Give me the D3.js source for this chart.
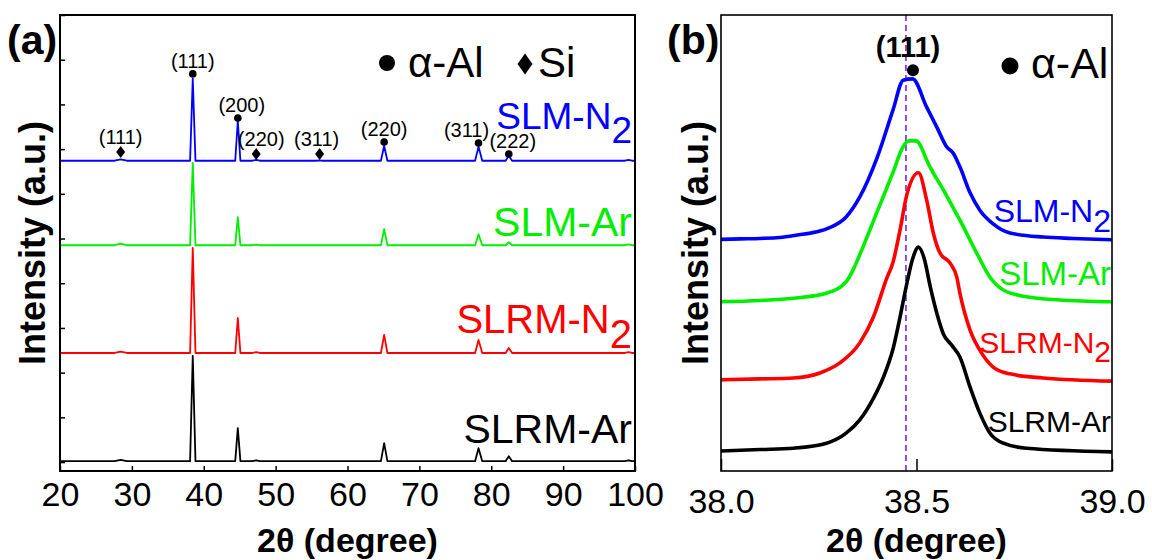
<!DOCTYPE html>
<html>
<head>
<meta charset="utf-8">
<script src="https://cdn.jsdelivr.net/npm/d3@7"></script>
<style>
  body { margin: 0; background: #fff; }
  svg { display: block; }
</style>
</head>
<body>
<svg id="xrd_svg" width="1152" height="560"></svg>
<script>
// ---- panel (a): full patterns, intensity above each pattern's own baseline
const sampleNames = ['SLM-N2', 'SLM-Ar', 'SLRM-N2', 'SLRM-Ar'];
const stackOffsets = [6740, 4850, 2440, 20];

const slmN2 = [
  [20, 0], [27.6, 0], [28.44, 30], [29.3, 0],
  [38.1, 0], [38.47, 1834], [38.85, 0],
  [44.38, 0], [44.74, 895], [45.1, 0],
  [46.8, 0], [47.3, 20], [47.8, 0],
  [55.6, 0], [56.12, 10], [56.6, 0],
  [64.65, 0], [65.1, 335], [65.55, 0],
  [77.75, 0], [78.23, 313], [78.75, 0],
  [82.0, 0], [82.44, 112], [82.9, 0],
  [98.6, 0], [99.1, 20], [99.6, 0], [100, 0]
];
const slmAr = [
  [20, 0], [27.6, 0], [28.44, 35], [29.3, 0],
  [38.1, 0], [38.47, 1840], [38.85, 0],
  [44.38, 0], [44.74, 626], [45.1, 0],
  [46.8, 0], [47.3, 15], [47.8, 0],
  [64.65, 0], [65.1, 358], [65.55, 0],
  [77.75, 0], [78.23, 246], [78.75, 0],
  [82.0, 0], [82.44, 67], [82.9, 0],
  [98.6, 0], [99.1, 20], [99.6, 0], [100, 0]
];
const slrmN2 = [
  [20, 0], [27.6, 0], [28.44, 30], [29.3, 0],
  [38.1, 0], [38.47, 2350], [38.85, 0],
  [44.38, 0], [44.74, 783], [45.1, 0],
  [46.8, 0], [47.3, 20], [47.8, 0],
  [64.65, 0], [65.1, 403], [65.55, 0],
  [77.75, 0], [78.23, 291], [78.75, 0],
  [82.0, 0], [82.44, 112], [82.9, 0],
  [98.6, 0], [99.1, 20], [99.6, 0], [100, 0]
];
const slrmAr = [
  [20, 0], [27.6, 0], [28.44, 30], [29.3, 0],
  [38.1, 0], [38.47, 2355], [38.85, 0],
  [44.38, 0], [44.74, 738], [45.1, 0],
  [46.8, 0], [47.3, 20], [47.8, 0],
  [64.65, 0], [65.1, 403], [65.55, 0],
  [77.75, 0], [78.23, 291], [78.75, 0],
  [82.0, 0], [82.44, 112], [82.9, 0],
  [98.6, 0], [99.1, 20], [99.6, 0], [100, 0]
];

const peaksAl = [38.47, 44.74, 65.1, 78.23, 82.44];
const hklAl = ['(111)', '(200)', '(220)', '(311)', '(222)'];
const markAl = [8682, 7697, 7160, 7137, 6891];
const peaksSi = [28.44, 47.3, 56.12];
const hklSi = ['(111)', '(220)', '(311)'];
const markSi = [6937, 6891, 6891];

const ticksA = [20, 30, 40, 50, 60, 70, 80, 90, 100];

// ---- panel (b): (111) peak zoom, already stacked
const zoomN2 = [
  [38.00, 50.8], [38.05, 50.9], [38.10, 51.0], [38.15, 51.2], [38.20, 51.8], [38.23, 52.2],
  [38.27, 53.1], [38.32, 55.7], [38.355, 60.1], [38.40, 68.9], [38.44, 79.2], [38.466, 85.7],
  [38.49, 86.0], [38.526, 79.8], [38.552, 75.4], [38.577, 71.1], [38.594, 69.7], [38.611, 66.7],
  [38.637, 61.0], [38.662, 57.2], [38.696, 54.2], [38.739, 52.2], [38.824, 51.3], [38.90, 51.0],
  [39.00, 50.7]
];
const zoomAr = [
  [38.00, 37.1], [38.10, 37.4], [38.185, 37.9], [38.27, 39.0], [38.32, 41.5], [38.34, 44.5],
  [38.36, 48.5], [38.40, 57.0], [38.44, 65.5], [38.465, 71.0], [38.48, 72.4], [38.50, 72.4],
  [38.515, 70.5], [38.526, 68.2], [38.569, 61.6], [38.594, 57.7], [38.611, 55.0], [38.654, 47.8],
  [38.688, 42.5], [38.722, 39.7], [38.781, 38.2], [38.866, 37.5], [39.00, 37.1]
];
const zoomSN2 = [
  [38.00, 20.0], [38.10, 20.2], [38.185, 20.4], [38.253, 21.5], [38.304, 23.7], [38.355, 28.1],
  [38.389, 33.6], [38.424, 42.3], [38.44, 45.8], [38.458, 52.9], [38.475, 60.5], [38.505, 65.4],
  [38.526, 59.4], [38.543, 52.2], [38.56, 47.8], [38.586, 45.6], [38.603, 42.5], [38.611, 39.0],
  [38.637, 30.9], [38.662, 26.5], [38.696, 22.8], [38.739, 21.3], [38.824, 20.4], [39.00, 19.7]
];
const zoomSAr = [
  [38.00, 4.4], [38.10, 4.7], [38.185, 5.0], [38.27, 6.1], [38.32, 8.3], [38.355, 11.2],
  [38.389, 15.8], [38.415, 20.5], [38.44, 26.8], [38.458, 33.8], [38.475, 41.0], [38.49, 46.5],
  [38.505, 49.1], [38.52, 46.5], [38.535, 40.5], [38.552, 34.6], [38.569, 30.0], [38.59, 27.6],
  [38.611, 25.0], [38.637, 18.4], [38.662, 12.7], [38.688, 8.3], [38.722, 6.1], [38.781, 5.0],
  [39.00, 4.2]
];
const refAngle = 38.473;
const ticksB = [38.0, 38.5, 39.0];

const colors = ['#0000ff', '#00ee00', '#ff0000', '#000000'];
const FONT = '"Liberation Sans", Arial, sans-serif';

function diamond(cx, cy, w, h) {
  return `M${cx},${cy - h}L${cx + w},${cy}L${cx},${cy + h}L${cx - w},${cy}Z`;
}

function sampleLabel(g, name, xEnd, yBase, size, color, subDy) {
  let t = g.append('text')
    .attr('x', xEnd).attr('y', yBase)
    .attr('text-anchor', 'end')
    .attr('font-size', size)
    .attr('fill', color);
  if (name.endsWith('2')) {
    t.append('tspan').text(name.slice(0, -1));
    t.append('tspan').attr('dy', subDy).text('2');
  } else {
    t.text(name);
  }
}

class XrdFigure {
  constructor() {
    this.svg = d3.select('#xrd_svg').attr('font-family', FONT);
    this.defs = this.svg.append('defs');
  }

  clip(id, x0, y0, w, h) {
    this.defs.append('clipPath').attr('id', id)
      .append('rect').attr('x', x0).attr('y', y0).attr('width', w).attr('height', h);
    return `url(#${id})`;
  }

  drawPanelA() {
    let svg = this.svg;
    let left = 60, right = 635, top = 15, bottom = 471;
    let x = d3.scaleLinear().domain([20, 100]).range([left, right]);
    let y = d3.scaleLinear().domain([-200, 10000]).range([bottom, top]);
    let series = [slmN2, slmAr, slrmN2, slrmAr];

    let g = svg.append('g').attr('clip-path', this.clip('clipA', left, top, right - left, bottom - top));
    for (let i = series.length - 1; i >= 0; i--) {
      let line = d3.line()
        .x(d => x(d[0]))
        .y(d => y(d[1] + stackOffsets[i]));
      g.append('path')
        .datum(series[i])
        .attr('d', line)
        .attr('fill', 'none')
        .attr('stroke', colors[i])
        .attr('stroke-width', 1.8)
        .attr('stroke-linejoin', 'round');
    }

    let xAxis = svg.append('g')
      .attr('transform', `translate(0,${bottom})`)
      .call(d3.axisBottom(x).tickValues(ticksA).tickSize(-5).tickSizeOuter(0).tickPadding(11).tickFormat(d3.format('d')));
    xAxis.select('.domain').remove();
    xAxis.attr('font-size', 34).attr('font-family', FONT);
    xAxis.selectAll('line').attr('stroke-width', 1.5);

    let yAxis = svg.append('g')
      .attr('transform', `translate(${left},0)`)
      .call(d3.axisLeft(y).tickValues(d3.range(0, 10001, 1000)).tickSize(-5).tickSizeOuter(0).tickFormat(''));
    yAxis.select('.domain').remove();
    yAxis.selectAll('line').attr('stroke-width', 1.5);

    svg.append('rect')
      .attr('x', left).attr('y', top)
      .attr('width', right - left).attr('height', bottom - top)
      .attr('fill', 'none').attr('stroke', '#000').attr('stroke-width', 2);

    // peak markers and indices
    let nudgeAl = [0, 4, 0, -12, 4];
    let nudgeSi = [0, 5, -3];
    let marks = svg.append('g');
    peaksAl.forEach((p, i) => {
      marks.append('circle').attr('cx', x(p)).attr('cy', y(markAl[i])).attr('r', 3.8);
      marks.append('text')
        .attr('x', x(p) + nudgeAl[i]).attr('y', y(markAl[i]) - 6)
        .attr('text-anchor', 'middle').attr('font-size', 20)
        .text(hklAl[i]);
    });
    peaksSi.forEach((p, i) => {
      marks.append('path').attr('d', diamond(x(p), y(markSi[i]), 4.5, 6));
      marks.append('text')
        .attr('x', x(p) + nudgeSi[i]).attr('y', y(markSi[i]) - 8)
        .attr('text-anchor', 'middle').attr('font-size', 20)
        .text(hklSi[i]);
    });

    let labelY = [129, 236, 333, 443];
    let labelSize = [37, 41, 40, 41];
    sampleNames.forEach((n, i) => sampleLabel(svg, n, 632, labelY[i], labelSize[i], colors[i], '0.38em'));

    // legend
    svg.append('circle').attr('cx', 387).attr('cy', 63).attr('r', 8);
    svg.append('text').attr('x', 408).attr('y', 77).attr('font-size', 42).text('α-Al');
    svg.append('path').attr('d', diamond(525, 64, 7.5, 10.5));
    svg.append('text').attr('x', 538).attr('y', 77).attr('font-size', 42).text('Si');

    svg.append('text').attr('x', 7).attr('y', 54)
      .attr('font-size', 41).attr('font-weight', 'bold').text('(a)');
    svg.append('text').attr('x', (left + right) / 2).attr('y', 552)
      .attr('text-anchor', 'middle').attr('font-size', 34).attr('font-weight', 'bold')
      .text('2θ (degree)');
    svg.append('text')
      .attr('transform', `translate(45,${(top + bottom) / 2}) rotate(-90)`)
      .attr('text-anchor', 'middle').attr('font-size', 36).attr('font-weight', 'bold')
      .text('Intensity (a.u.)');
  }

  drawPanelB() {
    let svg = this.svg;
    let left = 721, right = 1112, top = 15, bottom = 471;
    let x = d3.scaleLinear().domain([38, 39]).range([left, right]);
    let y = d3.scaleLinear().domain([0, 100]).range([bottom, top]);
    let series = [zoomN2, zoomAr, zoomSN2, zoomSAr];

    let g = svg.append('g').attr('clip-path', this.clip('clipB', left, top, right - left, bottom - top));
    g.append('line')
      .attr('x1', x(refAngle)).attr('x2', x(refAngle))
      .attr('y1', top).attr('y2', bottom)
      .attr('stroke', '#7a1fff').attr('stroke-width', 1.6)
      .attr('stroke-dasharray', '6,4');

    let line = d3.line()
      .x(d => x(d[0]))
      .y(d => y(d[1]))
      .curve(d3.curveMonotoneX);
    for (let i = series.length - 1; i >= 0; i--) {
      g.append('path')
        .datum(series[i])
        .attr('d', line)
        .attr('fill', 'none')
        .attr('stroke', colors[i])
        .attr('stroke-width', 3.6)
        .attr('stroke-linejoin', 'round');
    }

    let xAxis = svg.append('g')
      .attr('transform', `translate(0,${bottom})`)
      .call(d3.axisBottom(x).tickValues(ticksB).tickSize(-12).tickSizeOuter(0).tickPadding(18).tickFormat(d3.format('.1f')));
    xAxis.select('.domain').remove();
    xAxis.attr('font-size', 34).attr('font-family', FONT);
    xAxis.selectAll('line').attr('stroke-width', 1.5);

    svg.append('rect')
      .attr('x', left).attr('y', top)
      .attr('width', right - left).attr('height', bottom - top)
      .attr('fill', 'none').attr('stroke', '#000').attr('stroke-width', 1.6);

    let labelY = [222, 285, 353, 432];
    let labelSize = [32, 33, 30, 30];
    sampleNames.forEach((n, i) => sampleLabel(svg, n, 1111, labelY[i], labelSize[i], colors[i], '0.3em'));

    svg.append('circle').attr('cx', x(38.491)).attr('cy', y(87.9)).attr('r', 6);
    svg.append('text').attr('x', x(38.491) - 5).attr('y', 57)
      .attr('text-anchor', 'middle').attr('font-size', 29).attr('font-weight', 'bold')
      .text('(111)');

    svg.append('circle').attr('cx', 1010).attr('cy', 66).attr('r', 8.5);
    svg.append('text').attr('x', 1031).attr('y', 78).attr('font-size', 43).text('α-Al');

    svg.append('text').attr('x', 667).attr('y', 54)
      .attr('font-size', 41).attr('font-weight', 'bold').text('(b)');
    svg.append('text').attr('x', (left + right) / 2).attr('y', 552)
      .attr('text-anchor', 'middle').attr('font-size', 34).attr('font-weight', 'bold')
      .text('2θ (degree)');
    svg.append('text')
      .attr('transform', `translate(708,${(top + bottom) / 2}) rotate(-90)`)
      .attr('text-anchor', 'middle').attr('font-size', 36).attr('font-weight', 'bold')
      .text('Intensity (a.u.)');
  }
}

let fig = new XrdFigure();
fig.drawPanelA();
fig.drawPanelB();
</script>
</body>
</html>
